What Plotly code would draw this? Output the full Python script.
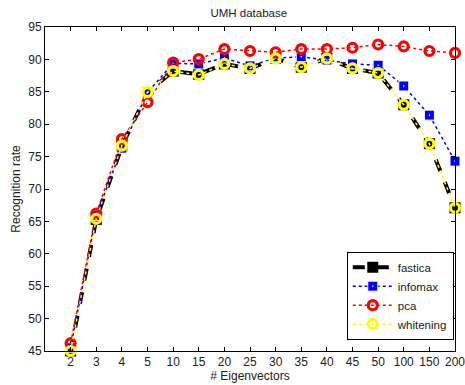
import plotly.graph_objects as go

categories = ["2", "3", "4", "5", "10", "15", "20", "25", "30", "35", "40", "45", "50", "100", "150", "200"]
fastica = [45.0, 65.3, 76.6, 84.9, 88.2, 87.7, 89.3, 88.6, 90.15, 88.8, 90.15, 88.6, 87.9, 83.0, 77.0, 67.1]
infomax = [45.5, 65.9, 76.3, 84.9, 89.4, 89.3, 90.2, 89.0, 90.2, 90.4, 89.9, 89.3, 89.1, 85.9, 81.4, 74.3]
pca = [46.2, 66.2, 77.7, 83.4, 89.5, 90.05, 91.6, 91.3, 91.1, 91.6, 91.6, 91.8, 92.3, 92.0, 91.3, 91.0]
whitening = [45.0, 65.4, 76.7, 84.95, 88.2, 87.6, 89.3, 88.6, 90.15, 88.8, 90.15, 88.6, 87.9, 83.0, 77.0, 67.1]
y_ticks = [45, 50, 55, 60, 65, 70, 75, 80, 85, 90, 95]

xpos = list(range(1, len(categories) + 1))

fig = go.Figure()
fig.add_trace(go.Scatter(
    x=xpos, y=fastica, name="fastica", mode="lines+markers",
    line=dict(color="black", width=4, dash="dash"),
    marker=dict(symbol="square", size=11, color="black"),
    cliponaxis=False))
fig.add_trace(go.Scatter(
    x=xpos, y=infomax, name="infomax", mode="lines+markers",
    line=dict(color="blue", width=1.5, dash="dot"),
    marker=dict(symbol="square-dot", size=10, color="blue",
                line=dict(color="white", width=1)),
    cliponaxis=False))
fig.add_trace(go.Scatter(
    x=xpos, y=pca, name="pca", mode="lines+markers",
    line=dict(color="red", width=1.5, dash="dot"),
    marker=dict(symbol="circle-open", size=9, color="red",
                line=dict(color="red", width=3.2)),
    cliponaxis=False))
fig.add_trace(go.Scatter(
    x=xpos, y=whitening, name="whitening", mode="lines+markers",
    line=dict(color="yellow", width=1.5, dash="dot"),
    marker=dict(symbol="circle-open", size=9, color="yellow",
                line=dict(color="yellow", width=3.2)),
    cliponaxis=False))

axis_common = dict(
    showgrid=False, zeroline=False, showline=True, linecolor="black",
    linewidth=1, mirror="ticks", ticks="inside", ticklen=4,
    tickcolor="black", tickfont=dict(size=12, color="#222"),
    automargin=False, ticklabeloverflow="allow",
)

fig.update_layout(
    width=465, height=385,
    margin=dict(l=45, r=10, t=27, b=34),
    paper_bgcolor="white", plot_bgcolor="white",
    font=dict(family="Liberation Sans, Arial, sans-serif", color="#222"),
    title=dict(text="UMH database", x=0.535, xanchor="center", y=0.977,
               yanchor="top", font=dict(size=11.5)),
    xaxis=dict(range=[0, 16], tickmode="array", tickvals=xpos,
               ticktext=categories,
               title=dict(text="# Eigenvectors", font=dict(size=12), standoff=1),
               **axis_common),
    yaxis=dict(range=[45, 95], tickmode="array", tickvals=y_ticks,
               title=dict(text="Recognition rate", font=dict(size=12), standoff=5),
               **axis_common),
    legend=dict(x=0.997, y=0.035, xanchor="right", yanchor="bottom",
                bgcolor="white", bordercolor="black", borderwidth=1,
                font=dict(size=11.5), tracegroupgap=0, itemwidth=40),
    showlegend=True,
)

fig.write_html("out.html", config={"displayModeBar": False},
               post_script="document.body.style.margin='0';")
